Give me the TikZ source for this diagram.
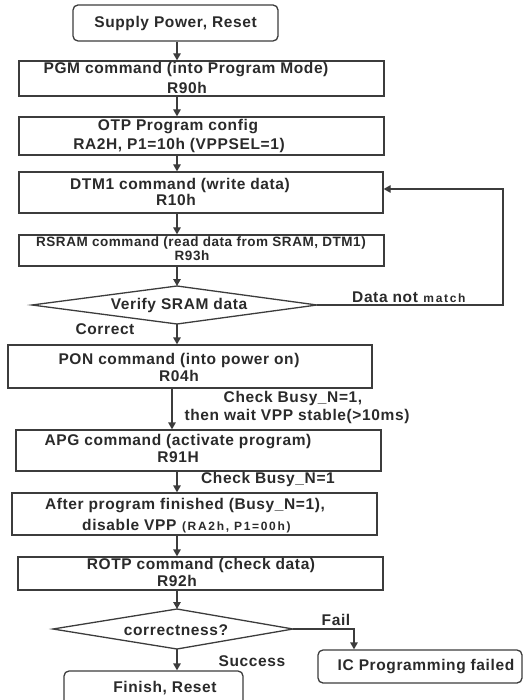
\documentclass[tikz,border=0pt]{standalone}
\usepackage{fontspec}
\setmainfont{Liberation Sans}[LetterSpace=4]
\newfontfamily\smallface{Liberation Sans}[LetterSpace=14]
\usetikzlibrary{arrows.meta,fit}
\definecolor{ink}{HTML}{2A2A2A}
\definecolor{edge}{HTML}{3C3C3C}
\newcommand\smalltxt{\smallface\bfseries\fontsize{12}{13}\selectfont}
\tikzset{
  x=1pt, y=-1pt,
  box/.style={draw=edge, line width=1.3pt, inner sep=0pt, fill=white},
  rbox/.style={box, rounded corners=5pt},
  txt/.style={text=ink, font=\bfseries\fontsize{15.5}{17}\selectfont, inner sep=0pt, anchor=center},
  arr/.style={draw=edge, line width=1.3pt, -{Triangle[length=7pt,width=7.5pt]}},
  flow/.style={draw=edge, line width=1.3pt},
}
\begin{document}
\begin{tikzpicture}
\useasboundingbox (0,0) rectangle (528,700);

% main axis of the flow
\coordinate (ax) at (177,0);

% process boxes
\node[rbox, fit={(73,5) (278,41)}]    (sup) {};
\node[box,  fit={(19,61) (384,96)}]   (pgm) {};
\node[box,  fit={(19,117) (384,155)}] (otp) {};
\node[box,  fit={(19,172) (383,213)}] (dtm) {};
\node[box,  fit={(19,235) (384,266)}] (rsr) {};
\node[box,  fit={(8,345) (372,388)}]  (pon) {};
\node[box,  fit={(16,430) (381,471)}] (apg) {};
\node[box,  fit={(12,493) (377,535)}] (aft) {};
\node[box,  fit={(18,557) (383,590)}] (rot) {};
\node[rbox, fit={(318,650) (522,683)}] (ic) {};
\node[rbox, fit={(64,671) (243,706)}] (fin) {};

% decision diamonds
\coordinate (v1l) at (32,305);  \coordinate (v1t) at (177,286);
\coordinate (v1r) at (317,305); \coordinate (v1b) at (177,324);
\draw[flow, fill=white, line join=miter] (v1l) -- (v1t) -- (v1r) -- (v1b) -- cycle;
\coordinate (v2l) at (53,629);  \coordinate (v2t) at (177,609);
\coordinate (v2r) at (293,629); \coordinate (v2b) at (177,649);
\draw[flow, fill=white, line join=miter] (v2l) -- (v2t) -- (v2r) -- (v2b) -- cycle;

% box texts
\node[txt] (t-sup)  at (175.5,23) {Supply Power, Reset};
\node[txt] (t-pgm1) at (186,70)  {PGM command (into Program Mode)};
\node[txt] (t-pgm2) at (187,88)  {R90h};
\node[txt] (t-otp1) at (178,127) {OTP Program config};
\node[txt] (t-otp2) at (179,145) {RA2H, P1=10h (VPPSEL=1)};
\node[txt] (t-dtm1) at (180,185) {DTM1 command (write data)};
\node[txt] (t-dtm2) at (176,200) {R10h};
\node[txt, font=\bfseries\fontsize{13.5}{15}\selectfont] (t-rsr1) at (201,243) {RSRAM command (read data from SRAM, DTM1)};
\node[txt, font=\bfseries\fontsize{13.5}{15}\selectfont] (t-rsr2) at (192,256) {R93h};
\node[txt] (t-ver)  at (179,305) {Verify SRAM data};
\node[txt] (t-pon1) at (179,360) {PON command (into power on)};
\node[txt] (t-pon2) at (179,376) {R04h};
\node[txt] (t-apg1) at (178,442) {APG command (activate program)};
\node[txt] (t-apg2) at (178,457) {R91H};
\node[txt] (t-aft1) at (185,506) {After program finished (Busy\_N=1),};
\node[txt, anchor=base west] (t-aft2) at (82,530) {disable VPP \textnormal{\smalltxt(RA2h, P1=00h)}};
\node[txt] (t-rot1) at (201,565) {ROTP command (check data)};
\node[txt] (t-rot2) at (177,581) {R92h};
\node[txt] (t-cor)  at (176,630) {correctness?};
\node[txt] (t-ic)   at (426,667) {IC Programming failed};
\node[txt] (t-fin)  at (165,688) {Finish, Reset};

% straight connectors along the axis
\draw[arr] (ax |- sup.south) -- (ax |- pgm.north);
\draw[arr] (ax |- pgm.south) -- (ax |- otp.north);
\draw[arr] (ax |- otp.south) -- (ax |- dtm.north);
\draw[arr] (ax |- dtm.south) -- (ax |- rsr.north);
\draw[arr] (ax |- rsr.south) -- (v1t);
\draw[arr] (v1b) -- (ax |- pon.north);
\coordinate (ax2) at (172,0);
\draw[arr] (ax2 |- pon.south) -- (ax2 |- apg.north);
\draw[arr] (ax |- apg.south) -- (ax |- aft.north);
\draw[arr] (ax |- aft.south) -- (ax |- rot.north);
\draw[arr] (ax |- rot.south) -- (v2t);
\draw[arr] (v2b) -- (ax |- fin.north);

% retry loop back to the write step
\coordinate (loop) at (503,189);
\draw[arr] (v1r) -| (loop) -- (loop -| dtm.east);

% failure branch
\coordinate (failx) at (354,629);
\draw[arr] (v2r) -- (failx) -- (failx |- ic.north);

% connector labels
\node[txt, anchor=base west] (l-nm) at (352,302) {Data not \textnormal{\smalltxt match}};
\node[txt] (l-cor)  at (105,329) {Correct};
\node[txt] (l-bz1)  at (293,398) {Check Busy\_N=1,};
\node[txt] (l-bz2)  at (297,416) {then wait VPP stable(>10ms)};
\node[txt] (l-bz3)  at (268,479) {Check Busy\_N=1};
\node[txt] (l-fail) at (336,620) {Fail};
\node[txt] (l-ok)   at (252,661) {Success};
\end{tikzpicture}
\end{document}
